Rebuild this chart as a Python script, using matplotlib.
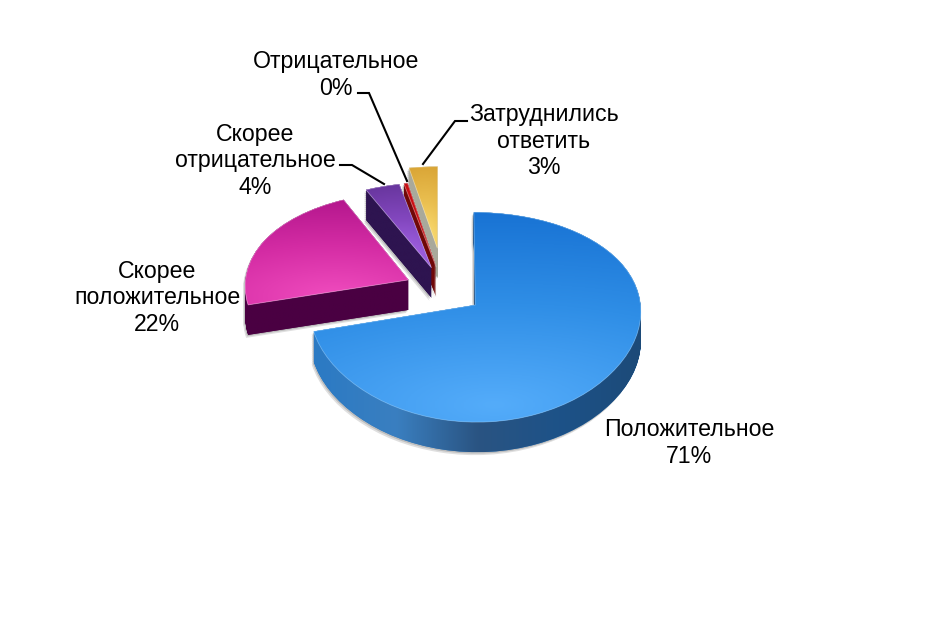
import numpy as np
import matplotlib
matplotlib.use("Agg")
import matplotlib.pyplot as plt
from matplotlib.colors import LinearSegmentedColormap
from matplotlib.patches import PathPatch
from matplotlib.path import Path
from matplotlib.transforms import Transform

plt.rcParams['font.family'] = ['Liberation Sans', 'DejaVu Sans']

categories = ["Положительное", "Скорее\nположительное", "Скорее\nотрицательное", "Отрицательное", "Затруднились\nответить"]
values = [71, 22, 3.6, 0.4, 3]
explode = [0.24, 0.24, 0.24, 0.24, 0.44]

# top face colour ramps (far edge -> near edge)
top_colors = [["#1670d2", "#2f8ee6", "#54acfa"],
              ["#b0148a", "#d42ca4", "#f04cbe"],
              ["#65349a", "#8448c0", "#a868ec"],
              ["#c80f14", "#c80f14", "#b00a10"],
              ["#d8a334", "#eabf50", "#fde27a"]]
side_colors = [["#2b7ac4", "#3a7fc0", "#2a5482", "#1d5288", "#1c4a78"],
               ["#4a0042", "#4a0042"],
               ["#2e1450", "#2e1450"],
               ["#700808", "#700808"],
               ["#a9a99b", "#a9a99b"]]

# text centres and leader lines, in pixels of the picture
label_pos = [(689, 443), (157, 298), (255, 161), (336, 75), (544, 141)]
leaders = [[(358, 93), (369, 93), (407, 181)],
           [(340, 165), (352, 165), (384, 184)],
           [(467, 121), (455, 121), (423, 164)]]

W, H = 933, 622
DEPTH = 30


class Persp(Transform):
    """Tilts the flat pie: unit circle coords -> picture pixels."""
    input_dims = 2
    output_dims = 2

    def __init__(self, dx=0, dz=0):
        super().__init__()
        self.dx = dx
        self.dz = dz

    def transform_non_affine(self, xy):
        xy = np.asarray(xy, dtype=float)
        wx = 1 + 0.05 * xy[:, 1]
        wy = 1 + 0.115 * xy[:, 1]
        return np.column_stack([444 + 164 * xy[:, 0] / wx + self.dx,
                                290 - 100 * xy[:, 1] / wy + self.dz])


def fill_gradient(ax, clip, pixel_path, colors, vertical, zorder):
    x0, y0, x1, y1 = pixel_path.get_extents().extents
    cmap = LinearSegmentedColormap.from_list("g", colors)
    if vertical:
        # brightest low and a bit right of the middle, darkens away from there
        xx, yy = np.meshgrid(np.linspace(0, 1, 200), np.linspace(0, 1, 200))
        ramp = 1 - np.hypot((xx - 0.55) * 0.55, yy - 0.92)
        ramp = ramp / ramp.max()
    else:
        ramp = np.linspace(0, 1, 256)[None, :]
    im = ax.imshow(ramp, cmap=cmap, extent=(x0, x1, y1, y0), aspect="auto", zorder=zorder,
                   interpolation="bilinear", vmin=0 if not vertical else ramp.min(), vmax=1)
    im.set_clip_path(clip)


fig = plt.figure(figsize=(W / 100, H / 100), dpi=100, facecolor="white")
ax = fig.add_axes([0, 0, 1, 1])
wedges, _ = ax.pie(values, explode=explode, startangle=90, counterclock=False, radius=1, center=(0, 0))
ax.set_aspect("auto")

# far slices first, the big blue one goes last
for i in [4, 3, 2, 1, 0]:
    base = (5 - i) * 10 if i else 60
    wedge = wedges[i]
    path = wedge.get_path()

    layers = [Persp(dz=d).transform_path(path) for d in range(DEPTH + 1)]
    side = Path.make_compound_path(*layers)

    # soft grey shadow below the slice
    for off, alpha in [(3, 0.25), (1.5, 0.35)]:
        shadow = [Persp(dx=-off / 1.5, dz=d + off).transform_path(path) for d in range(0, DEPTH + 1, 2)]
        ax.add_patch(PathPatch(Path.make_compound_path(*shadow), facecolor="#808080", edgecolor="none",
                               alpha=alpha, zorder=base))

    side_patch = PathPatch(side, facecolor=side_colors[i][0], edgecolor="none", zorder=base + 1)
    ax.add_patch(side_patch)
    fill_gradient(ax, side_patch, side, side_colors[i], False, base + 2)

    top = Persp().transform_path(path)
    wedge.set_transform(Persp() + ax.transData)
    wedge.set_facecolor(top_colors[i][1])
    wedge.set_edgecolor("none")
    wedge.set_zorder(base + 3)
    fill_gradient(ax, wedge, top, top_colors[i], True, base + 4)

    # thin light rim on the top face
    ax.add_patch(PathPatch(top, facecolor="none", edgecolor="#bfe4ff" if i == 0 else "white",
                           lw=0.6, alpha=0.4, zorder=base + 5))

ax.set_xlim(0, W)
ax.set_ylim(H, 0)

for line in leaders:
    xs, ys = zip(*line)
    ax.plot(xs, ys, color="black", lw=1.5, zorder=100, solid_joinstyle="miter")

for name, val, (x, y) in zip(categories, values, label_pos):
    ax.text(x, y, f"{name}\n{val:.0f}%", ha="center", va="center", fontsize=16.7,
            color="black", linespacing=1.2, zorder=101)

fig.savefig("out.png", dpi=100)
